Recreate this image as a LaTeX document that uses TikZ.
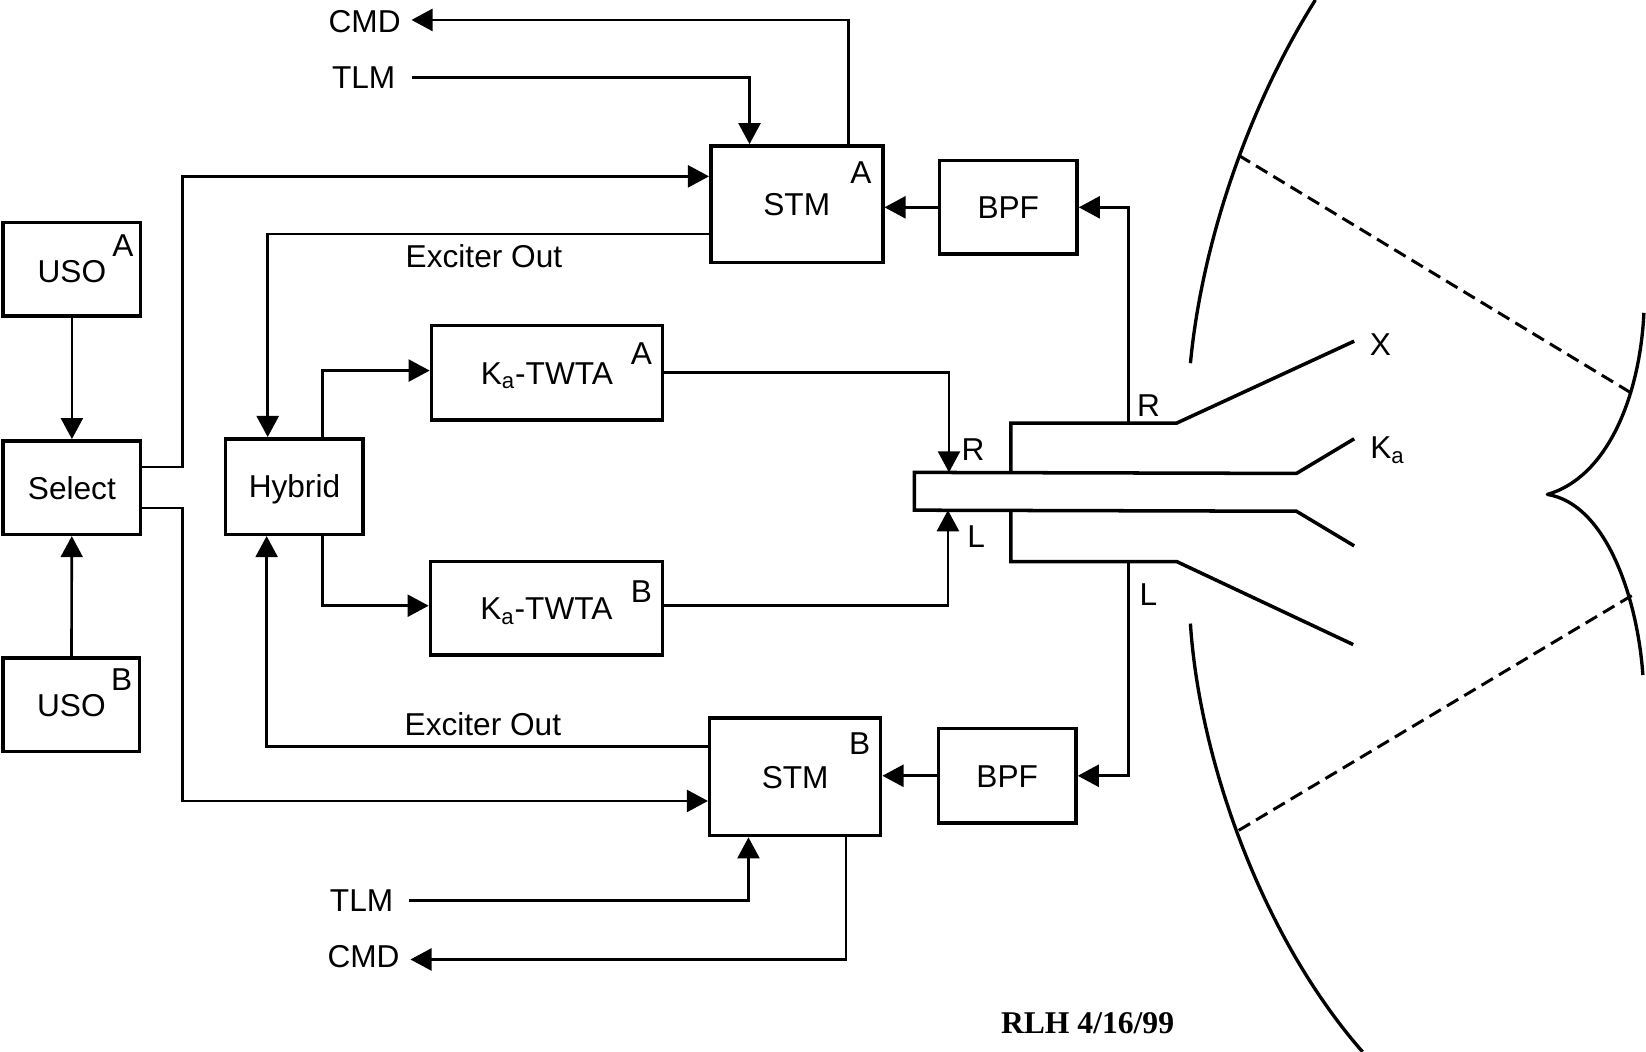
\documentclass[tikz,border=0pt]{standalone}
\usepackage{fontspec}
\setmainfont{Liberation Sans}
\newfontfamily\stampfont{Liberation Serif}
\usetikzlibrary{arrows.meta}
\tikzset{
  box/.style ={draw,line width=2pt,font=\fontsize{18}{20}\selectfont,inner sep=0pt,text height=13pt,text depth=0pt},
  lbl/.style ={font=\fontsize{18}{20}\selectfont,inner sep=0pt},
  tag/.style ={lbl,anchor=east,inner sep=6pt},
  sig/.style ={draw,line width=1.5pt},
  arr/.style ={sig,-{Triangle[length=12pt,width=12.5pt]}},
  horn/.style={draw,line width=2pt,line join=miter},
  dish/.style={draw,line width=1.9pt,line join=round},
  ray/.style ={draw,line width=1.7pt,dash pattern=on 7.5pt off 4pt},
}
\begin{document}
\begin{tikzpicture}[x=0.021cm,y=-0.021cm]
  \useasboundingbox (0,0) rectangle (1568,1001.7);
  % boxes
  \node[box,minimum width=2.75cm,minimum height=1.87cm,text height=15.4pt] (usoA) at (68.5,256.5) {USO};
  \node[box,minimum width=2.75cm,minimum height=1.87cm] (select) at (68.5,464.5) {Select};
  \node[box,minimum width=2.73cm,minimum height=1.87cm] (usoB) at (68,671.5) {USO};
  \node[box,minimum width=2.75cm,minimum height=1.91cm] (hybrid) at (280.5,463.5) {Hybrid};
  \node[box,minimum width=3.44cm,minimum height=2.33cm] (stmA) at (759,194.5) {STM};
  \node[box,minimum width=2.75cm,minimum height=1.87cm] (bpfA) at (960.5,197.5) {BPF};
  \node[box,minimum width=4.62cm,minimum height=1.89cm] (twtaA) at (521,355) {K\textsubscript{a}-TWTA};
  \node[box,minimum width=4.64cm,minimum height=1.87cm] (twtaB) at (520.5,579.5) {K\textsubscript{a}-TWTA};
  \node[box,minimum width=3.42cm,minimum height=2.35cm] (stmB) at (757.5,740) {STM};
  \node[box,minimum width=2.75cm,minimum height=1.89cm] (bpfB) at (959.5,739) {BPF};
  % letters
  \node[lbl] (usoAtag) at (117,234) {A};
  \node[lbl] (usoBtag) at (116,647) {B};
  \node[lbl] (stmAtag) at (820,164) {A};
  \node[lbl] (stmBtag) at (819,708) {B};
  \node[lbl] (twtaAtag) at (611,337) {A};
  \node[lbl] (twtaBtag) at (611,564) {B};
  % free ends
  \node[tag] (cmdA) at (392,21) {CMD};
  \node[tag,inner sep=9pt] (tlmA) at (392,74) {TLM};
  \node[tag,inner sep=9pt] (tlmB) at (390,858) {TLM};
  \node[tag] (cmdB) at (391,911) {CMD};
  \node[lbl] (excA) at (461,244) {Exciter Out};
  \node[lbl] (excB) at (460,690) {Exciter Out};
  % feed
  \coordinate (fa) at (871,450);
  \coordinate (fb) at (871,486);
  \coordinate (hornR) at (1075,403);
  \coordinate (hornL) at (1075,535);
  \coordinate (feedR) at (904,450);
  \coordinate (feedL) at (903,486);
  \path[horn] (963,450) -- (963,403) -- (1121,403) -- (1290,325);
  \path[horn] (963,486) -- (963,535) -- (1121,535) -- (1289,614);
  \path[horn] (1290,418) -- (1235,451) -- (fa) -- (fb) -- (1235,487) -- (1290,520);
  \node[lbl] (portX) at (1315,328) {X};
  \node[lbl,anchor=west] (portKa) at (1305,429) {K\textsubscript{a}};
  \node[lbl] (outR) at (1094,386) {R};
  \node[lbl] (outL) at (1094,566) {L};
  \node[lbl] (inR) at (927,428) {R};
  \node[lbl] (inL) at (930,511) {L};
  % connections
  \path[arr] (usoA) -- (select);
  \path[arr] (usoB) -- (select);
  \path[arr] (select.east |- 0,445) -- (174,445) |- (stmA.west |- 0,168);
  \path[arr] (select.east |- 0,484) -- (174,484) |- (stmB.west |- 0,763);
  \path[arr] (stmA.west |- 0,223) -| (hybrid.north -| 255,0);
  \path[arr] (stmB.west |- 0,711) -| (hybrid.south -| 254,0);
  \path[arr] (hybrid.north -| 307,0) |- (twtaA.west |- 0,353);
  \path[arr] (hybrid.south -| 307,0) |- (twtaB.west |- 0,577);
  \path[arr] (twtaA.east |- 0,355) -| (feedR);
  \path[arr] (twtaB.east |- 0,577) -| (feedL);
  \path[arr] (hornR) |- (bpfA.east);
  \path[arr] (hornL) |- (bpfB.east);
  \path[arr] (bpfA.west) -- (stmA.east |- bpfA.west);
  \path[arr] (bpfB.west) -- (stmB.east |- bpfB.west);
  \path[arr] (stmA.north -| 808,0) |- (cmdA.east |- 0,19);
  \path[arr] (tlmA.east) -| (stmA.north -| 714,0);
  \path[arr] (tlmB.east) -| (stmB.south -| 713,0);
  \path[arr] (stmB.south -| 806,0) |- (cmdB.east |- 0,914);
  % antenna
  \path[dish] (1253,0) .. controls (1190,100) and (1145,230) .. (1134,346);
  \path[dish] (1134,594) .. controls (1142,720) and (1200,890) .. (1298,1002);
  \path[dish] (1566,298) .. controls (1562,380) and (1530,455) .. (1474,471)
              .. controls (1530,480) and (1560,570) .. (1565,643);
  \path[ray] (1180,148) -- (1555,375);
  \path[ray] (1180,791) -- (1555,567);
  \node[lbl,font=\stampfont\bfseries\fontsize{18}{20}\selectfont] (stamp) at (1036,975) {RLH 4/16/99};
\end{tikzpicture}
\end{document}
